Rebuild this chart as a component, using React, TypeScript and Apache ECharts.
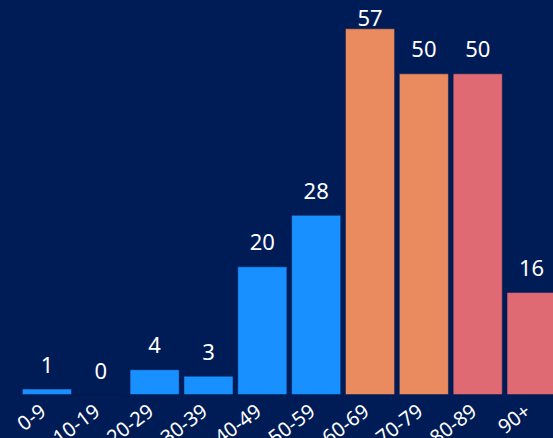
import React, { useEffect, useRef } from "react";
import * as echarts from "echarts";

const categories = ["0-9", "10-19", "20-29", "30-39", "40-49", "50-59", "60-69", "70-79", "80-89", "90+"];
const values = [1, 0, 4, 3, 20, 28, 57, 50, 50, 16];

const BG = "#001c57";
const BLUE = "#1890ff";
const ORANGE = "#e98a5f";
const PINK = "#df6a74";

function colorFor(index: number): string {
  if (index < 6) return BLUE;
  if (index < 8) return ORANGE;
  return PINK;
}

export default function App() {
  const ref = useRef<HTMLDivElement>(null);
  useEffect(() => {
    if (!ref.current) return;
    const chart = echarts.init(ref.current, undefined, { renderer: "svg" });
    chart.setOption({
      animation: false,
      backgroundColor: BG,
      textStyle: { fontFamily: "Noto Sans" },
      grid: { left: 20, right: 1.5, top: 9, bottom: 43, containLabel: false, outerBoundsMode: "none" },
      xAxis: {
        type: "category",
        data: categories,
        axisLine: { show: false },
        axisTick: { show: false },
        axisLabel: {
          color: "#ffffff",
          fontSize: 20,
          rotate: 37,
          margin: 10,
          padding: [0, 5, 0, 0],
          interval: 0,
          fontFamily: "Noto Sans",
        },
      },
      yAxis: {
        type: "value",
        min: 0,
        max: 60,
        show: false,
        splitLine: { show: false },
      },
      series: [
        {
          type: "bar",
          data: values,
          barCategoryGap: "7%",
          itemStyle: {
            color: (p: any) => colorFor(p.dataIndex),
            borderColor: "rgba(0,20,70,0.45)",
            borderWidth: 1,
          },
          label: {
            show: true,
            position: "top",
            distance: 14,
            color: "#ffffff",
            fontSize: 22,
            fontFamily: "Noto Sans",
          },
          labelLayout: (params: any) => {
            const r = params.labelRect;
            if (r && r.y < 6) return { dy: 6 - r.y };
            return {};
          },
        },
      ],
    });
    return () => chart.dispose();
  }, []);
  return (
    <div style={{ position: "absolute", left: 0, top: 0, width: 553, height: 438, overflow: "hidden", background: BG }}>
      <div ref={ref} style={{ width: 560, height: 438 }} />
    </div>
  );
}
